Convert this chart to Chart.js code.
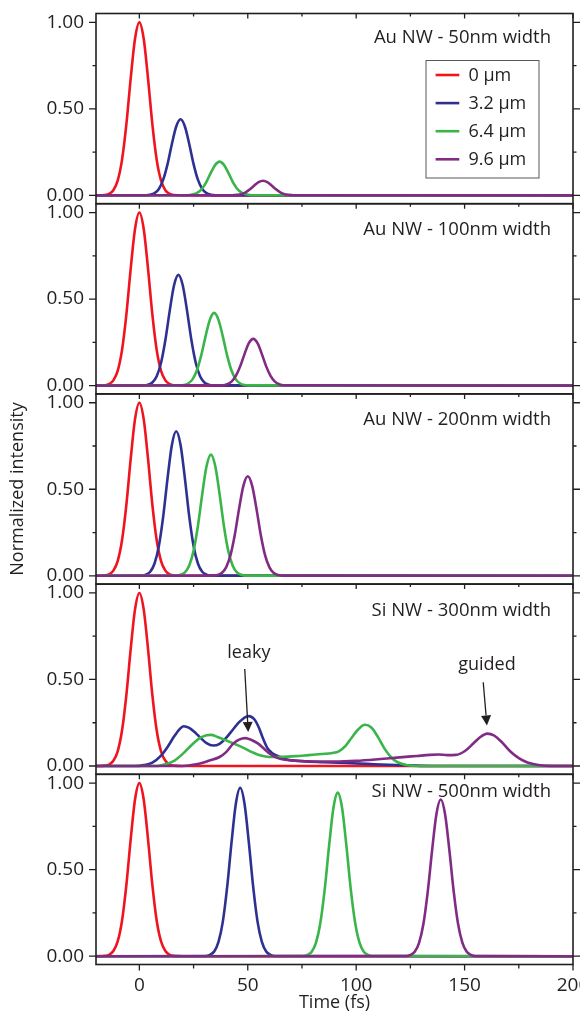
<!DOCTYPE html>
<html>
<head>
<meta charset="utf-8">
<title>Pulse propagation along nanowires</title>
<script src="https://cdn.jsdelivr.net/npm/chart.js@4/dist/chart.umd.min.js"></script>
<style>
  html, body { margin: 0; padding: 0; background: #fff; }
  #figure { position: relative; width: 580px; height: 1014px; overflow: hidden; background: #fff; }
  #figure canvas { position: absolute; left: 0; }
</style>
</head>
<body>
<div id="figure"></div>
<script>
// ---- axes ----
const timeRange = [-20, 200];
const timeTicks = [0, 25, 50, 75, 100, 125, 150, 175, 200];
const timeTickLabels = ['0', '', '50', '', '100', '', '150', '', '200'];
const intensityRange = [-0.048, 1.051];
const intensityTicks = [0, 0.25, 0.5, 0.75, 1];
const intensityTickLabels = ['0.00', '', '0.50', '', '1.00'];

const distanceLabels = ['0 μm', '3.2 μm', '6.4 μm', '9.6 μm'];
const panelTitles = [
  'Au NW - 50nm width',
  'Au NW - 100nm width',
  'Au NW - 200nm width',
  'Si NW - 300nm width',
  'Si NW - 500nm width'
];

// ---- pulses, [time fs, normalized intensity] ----
// launched pulse, same in every panel
const inputPulse = [[-20,0],[-16,0.002],[-14,0.008],[-12,0.03],[-10,0.085],[-8,0.205],[-6,0.41],[-4,0.675],[-2,0.905],[0,1],[2,0.905],[4,0.675],[6,0.41],[8,0.205],[10,0.085],[12,0.03],[14,0.008],[16,0.002],[20,0],[200,0]];

// Au NW 50 nm
const au50nm_3um = [[-20,0],[3,0.001],[5,0.004],[7,0.013],[9,0.037],[11,0.091],[13,0.181],[15,0.297],[17,0.398],[19,0.44],[21,0.398],[23,0.297],[25,0.181],[27,0.091],[29,0.037],[31,0.013],[33,0.004],[35,0.001],[200,0]];
const au50nm_6um = [[-20,0],[21,0.0005],[23,0.002],[25,0.006],[27,0.017],[29,0.04],[31,0.08],[33,0.132],[35,0.176],[37,0.195],[39,0.176],[41,0.132],[43,0.08],[45,0.04],[47,0.017],[49,0.006],[51,0.002],[53,0.0005],[200,0]];
const au50nm_9um = [[-20,0],[43,0.001],[45,0.003],[47,0.007],[49,0.017],[51,0.035],[53,0.057],[55,0.077],[57,0.085],[59,0.077],[61,0.057],[63,0.035],[65,0.017],[67,0.007],[69,0.003],[71,0.001],[200,0]];

// Au NW 100 nm
const au100nm_3um = [[-20,0],[2,0.001],[4,0.005],[6,0.018],[8,0.054],[10,0.132],[12,0.263],[14,0.432],[16,0.58],[18,0.64],[20,0.58],[22,0.432],[24,0.263],[26,0.132],[28,0.054],[30,0.018],[32,0.005],[34,0.001],[200,0]];
const au100nm_6um = [[-20,0],[18.5,0.001],[20.5,0.003],[22.5,0.012],[24.5,0.036],[26.5,0.087],[28.5,0.173],[30.5,0.283],[32.5,0.38],[34.5,0.42],[36.5,0.38],[38.5,0.283],[40.5,0.173],[42.5,0.087],[44.5,0.036],[46.5,0.012],[48.5,0.003],[50.5,0.001],[200,0]];
const au100nm_9um = [[-20,0],[38.5,0.002],[40.5,0.008],[42.5,0.023],[44.5,0.056],[46.5,0.111],[48.5,0.182],[50.5,0.245],[52.5,0.27],[54.5,0.245],[56.5,0.182],[58.5,0.111],[60.5,0.056],[62.5,0.023],[64.5,0.008],[66.5,0.002],[200,0]];

// Au NW 200 nm
const au200nm_3um = [[-20,0],[1,0.001],[3,0.007],[5,0.023],[7,0.071],[9,0.172],[11,0.343],[13,0.563],[15,0.756],[17,0.835],[19,0.756],[21,0.563],[23,0.343],[25,0.172],[27,0.071],[29,0.023],[31,0.007],[33,0.001],[200,0]];
const au200nm_6um = [[-20,0],[17,0.001],[19,0.006],[21,0.02],[23,0.06],[25,0.144],[27,0.288],[29,0.472],[31,0.634],[33,0.7],[35,0.634],[37,0.472],[39,0.288],[41,0.144],[43,0.06],[45,0.02],[47,0.006],[49,0.001],[200,0]];
const au200nm_9um = [[-20,0],[34,0.001],[36,0.005],[38,0.016],[40,0.049],[42,0.118],[44,0.236],[46,0.388],[48,0.521],[50,0.575],[52,0.521],[54,0.388],[56,0.236],[58,0.118],[60,0.049],[62,0.016],[64,0.005],[66,0.001],[200,0]];

// Si NW 300 nm: leaky + guided components
const si300nm_3um = [[-20,0],[-2,0],[2,0.005],[6,0.02],[10,0.06],[13,0.11],[16,0.17],[18.5,0.212],[20.5,0.23],[23,0.22],[26,0.19],[28,0.165],[31,0.132],[34,0.118],[37,0.128],[40,0.162],[43,0.208],[46,0.253],[48.5,0.28],[50.5,0.288],[53,0.27],[55,0.225],[57,0.16],[59,0.105],[61,0.077],[63,0.062],[68,0.037],[75,0.028],[85,0.022],[95,0.017],[105,0.012],[115,0.007],[125,0.003],[135,0],[200,0]];
const si300nm_6um = [[-20,0],[8,0],[12,0.01],[16,0.03],[20,0.07],[24,0.12],[28,0.162],[31,0.178],[33,0.18],[36,0.168],[40,0.148],[44,0.127],[48,0.105],[52,0.08],[56,0.06],[60,0.052],[66,0.053],[72,0.057],[78,0.063],[84,0.069],[89,0.075],[92,0.085],[95,0.115],[98,0.165],[101,0.212],[104,0.238],[107,0.222],[110,0.168],[113,0.102],[116,0.052],[119,0.022],[123,0.006],[128,0],[200,0]];
const si300nm_9um = [[-20,0],[20,0],[24,0.005],[28,0.014],[32,0.03],[37,0.052],[40,0.08],[43.3,0.129],[46,0.152],[48.7,0.161],[51.5,0.152],[54.8,0.129],[57.5,0.1],[60.2,0.071],[63,0.05],[66.4,0.037],[72,0.03],[80,0.026],[90,0.026],[100,0.03],[110,0.039],[120,0.05],[128,0.058],[134,0.064],[138,0.066],[142,0.063],[146,0.064],[150,0.085],[154,0.13],[157,0.165],[160.5,0.187],[163.5,0.177],[167,0.14],[171,0.085],[175,0.045],[179,0.02],[184,0.006],[190,0],[200,0]];

// Si NW 500 nm
const si500nm_3um = [[-20,0],[30.5,0.001],[32.5,0.008],[34.5,0.027],[36.5,0.083],[38.5,0.2],[40.5,0.4],[42.5,0.656],[44.5,0.881],[46.5,0.973],[48.5,0.881],[50.5,0.656],[52.5,0.4],[54.5,0.2],[56.5,0.083],[58.5,0.027],[60.5,0.008],[62.5,0.001],[200,0]];
const si500nm_6um = [[-20,0],[75.5,0.001],[77.5,0.008],[79.5,0.026],[81.5,0.08],[83.5,0.195],[85.5,0.388],[87.5,0.637],[89.5,0.856],[91.5,0.945],[93.5,0.856],[95.5,0.637],[97.5,0.388],[99.5,0.195],[101.5,0.08],[103.5,0.026],[105.5,0.008],[107.5,0.001],[200,0]];
const si500nm_9um = [[-20,0],[123,0.001],[125,0.007],[127,0.025],[129,0.077],[131,0.186],[133,0.372],[135,0.61],[137,0.82],[139,0.905],[141,0.82],[143,0.61],[145,0.372],[147,0.186],[149,0.077],[151,0.025],[153,0.007],[155,0.001],[200,0]];

// ---- look ----
const FONT = '"Open Sans", "DejaVu Sans", sans-serif';
const INK = '#231f20';
const seriesColors = ['#f0141e', '#2e3192', '#39b54a', '#812b85'];

// stacked plot boxes, page pixels
const FIG_W = 580, FIG_H = 1014;
const PLOT_LEFT = 96, PLOT_RIGHT = 573;
const PLOT_TOP = 13.5, PANEL_H = 190.2;
const MARGIN = 14;

const panels = [
  { title: panelTitles[0], series: [inputPulse, au50nm_3um, au50nm_6um, au50nm_9um], captionY: 29.2, legend: true },
  { title: panelTitles[1], series: [inputPulse, au100nm_3um, au100nm_6um, au100nm_9um], captionY: 31.5 },
  { title: panelTitles[2], series: [inputPulse, au200nm_3um, au200nm_6um, au200nm_9um], captionY: 31.5, yTitle: true },
  { title: panelTitles[3], series: [inputPulse, si300nm_3um, si300nm_6um, si300nm_9um], captionY: 31.9,
    notes: [
      { text: 'leaky', at: [50.5, 0.623], from: [48.6, 0.56], to: [50.2, 0.196] },
      { text: 'guided', at: [160.3, 0.555], from: [158.6, 0.484], to: [160.3, 0.234] }
    ] },
  { title: panelTitles[4], series: [inputPulse, si500nm_3um, si500nm_6um, si500nm_9um], captionY: 22.6, timeAxis: true }
];

// box, tick marks, caption, legend and arrows of one panel
const panelFrame = {
  id: 'panelFrame',
  afterDatasetsDraw(chart, args, opts) {
    const { ctx, chartArea: a } = chart;
    const xs = chart.scales.x, ys = chart.scales.y;
    ctx.save();
    ctx.strokeStyle = INK;
    ctx.lineWidth = 1.6;
    ctx.strokeRect(a.left, a.top, a.right - a.left, a.bottom - a.top);

    ctx.lineWidth = 1.3;
    ctx.beginPath();
    intensityTicks.forEach((v, i) => {
      const py = ys.getPixelForValue(v);
      const len = intensityTickLabels[i] ? 7 : 3.5;
      ctx.moveTo(a.left - len, py); ctx.lineTo(a.left, py);
      ctx.moveTo(a.right, py); ctx.lineTo(a.right + len, py);
    });
    timeTicks.forEach((v, i) => {
      const px = xs.getPixelForValue(v);
      const len = timeTickLabels[i] ? 5 : 3;
      ctx.moveTo(px, a.top); ctx.lineTo(px, a.top + len);
      if (opts.outerTicks) { ctx.moveTo(px, a.bottom); ctx.lineTo(px, a.bottom + len + 1); }
    });
    ctx.stroke();

    ctx.fillStyle = INK;
    ctx.font = `18.5px ${FONT}`;
    ctx.textAlign = 'right';
    ctx.textBaseline = 'alphabetic';
    ctx.fillText(opts.caption, a.right - 22, a.top + opts.captionY);

    if (opts.legend) {
      const bx = a.right - 147, by = a.top + 47, bw = 113, bh = 117.5;
      ctx.strokeStyle = '#58595b';
      ctx.lineWidth = 1;
      ctx.strokeRect(bx, by, bw, bh);
      ctx.font = `18px ${FONT}`;
      ctx.textAlign = 'left';
      ctx.textBaseline = 'middle';
      chart.data.datasets.forEach((ds, i) => {
        const ry = by + 14.5 + 28.1 * i;
        ctx.strokeStyle = ds.borderColor;
        ctx.lineWidth = 2.6;
        ctx.beginPath();
        ctx.moveTo(bx + 9.6, ry); ctx.lineTo(bx + 33.3, ry);
        ctx.stroke();
        ctx.fillStyle = INK;
        ctx.fillText(ds.label, bx + 42.5, ry + 1);
      });
    }

    (opts.notes || []).forEach(n => {
      ctx.fillStyle = INK;
      ctx.strokeStyle = INK;
      ctx.font = `18px ${FONT}`;
      ctx.textAlign = 'center';
      ctx.textBaseline = 'alphabetic';
      ctx.fillText(n.text, xs.getPixelForValue(n.at[0]), ys.getPixelForValue(n.at[1]));
      const x0 = xs.getPixelForValue(n.from[0]), y0 = ys.getPixelForValue(n.from[1]);
      const x1 = xs.getPixelForValue(n.to[0]), y1 = ys.getPixelForValue(n.to[1]);
      const ang = Math.atan2(y1 - y0, x1 - x0);
      const head = 10, half = 5;
      const bxh = x1 - head * Math.cos(ang), byh = y1 - head * Math.sin(ang);
      ctx.lineWidth = 1.3;
      ctx.beginPath();
      ctx.moveTo(x0, y0); ctx.lineTo(bxh, byh);
      ctx.stroke();
      ctx.beginPath();
      ctx.moveTo(x1, y1);
      ctx.lineTo(bxh + half * Math.sin(ang), byh - half * Math.cos(ang));
      ctx.lineTo(bxh - half * Math.sin(ang), byh + half * Math.cos(ang));
      ctx.closePath();
      ctx.fill();
    });
    ctx.restore();
  }
};

const figure = document.getElementById('figure');

panels.forEach((panel, i) => {
  const top = PLOT_TOP + i * PANEL_H;
  const bottom = top + PANEL_H;
  const canvasTop = Math.floor(top) - MARGIN;
  const canvasBottom = panel.timeAxis ? FIG_H : Math.ceil(bottom) + MARGIN;
  const canvasH = canvasBottom - canvasTop;

  const canvas = document.createElement('canvas');
  canvas.width = FIG_W;
  canvas.height = canvasH;
  canvas.style.top = canvasTop + 'px';
  canvas.style.width = FIG_W + 'px';
  canvas.style.height = canvasH + 'px';
  figure.appendChild(canvas);

  new Chart(canvas, {
    type: 'line',
    data: {
      datasets: panel.series.map((pts, k) => ({
        label: distanceLabels[k],
        data: pts,
        borderColor: seriesColors[k],
        borderWidth: 2.6,
        borderJoinStyle: 'round',
        pointRadius: 0,
        fill: false,
        cubicInterpolationMode: 'monotone',
        order: 3 - k
      }))
    },
    options: {
      responsive: false,
      animation: false,
      devicePixelRatio: 1,
      events: [],
      layout: {
        padding: {
          left: 0,
          right: FIG_W - PLOT_RIGHT,
          top: top - canvasTop,
          bottom: panel.timeAxis ? 0 : canvasBottom - bottom
        }
      },
      plugins: {
        legend: { display: false },
        tooltip: { enabled: false },
        panelFrame: {
          caption: panel.title,
          captionY: panel.captionY,
          legend: !!panel.legend,
          notes: panel.notes,
          outerTicks: !!panel.timeAxis
        }
      },
      scales: {
        x: {
          type: 'linear',
          min: timeRange[0],
          max: timeRange[1],
          display: !!panel.timeAxis,
          afterBuildTicks: s => { s.ticks = timeTicks.map(value => ({ value })); },
          afterFit: s => {
            if (panel.timeAxis) s.height = canvasH - (bottom - canvasTop);
            s.paddingLeft = 0;
            s.paddingRight = 0;
          },
          // tick marks come from panelFrame
          grid: { display: false, drawTicks: false },
          border: { display: false },
          ticks: {
            autoSkip: false,
            maxRotation: 0,
            padding: 10,
            color: INK,
            font: { family: FONT, size: 19 },
            callback: (v, idx) => timeTickLabels[idx]
          },
          title: {
            display: true,
            text: 'Time (fs)',
            color: INK,
            font: { family: FONT, size: 18, lineHeight: 1.2 },
            padding: { top: 0, bottom: 0 }
          }
        },
        y: {
          type: 'linear',
          min: intensityRange[0],
          max: intensityRange[1],
          afterBuildTicks: s => { s.ticks = intensityTicks.map(value => ({ value })); },
          afterFit: s => {
            s.width = PLOT_LEFT;
            s.paddingTop = 0;
            s.paddingBottom = 0;
          },
          grid: { display: false, drawTicks: false },
          border: { display: false },
          ticks: {
            padding: 12,
            color: INK,
            font: { family: FONT, size: 19 },
            callback: (v, idx) => intensityTickLabels[idx]
          },
          title: {
            display: !!panel.yTitle,
            text: 'Normalized intensity',
            color: INK,
            font: { family: FONT, size: 18, lineHeight: 1.2 },
            padding: { top: 7.5, bottom: 0 }
          }
        }
      }
    },
    plugins: [panelFrame]
  });
});
</script>
</body>
</html>
